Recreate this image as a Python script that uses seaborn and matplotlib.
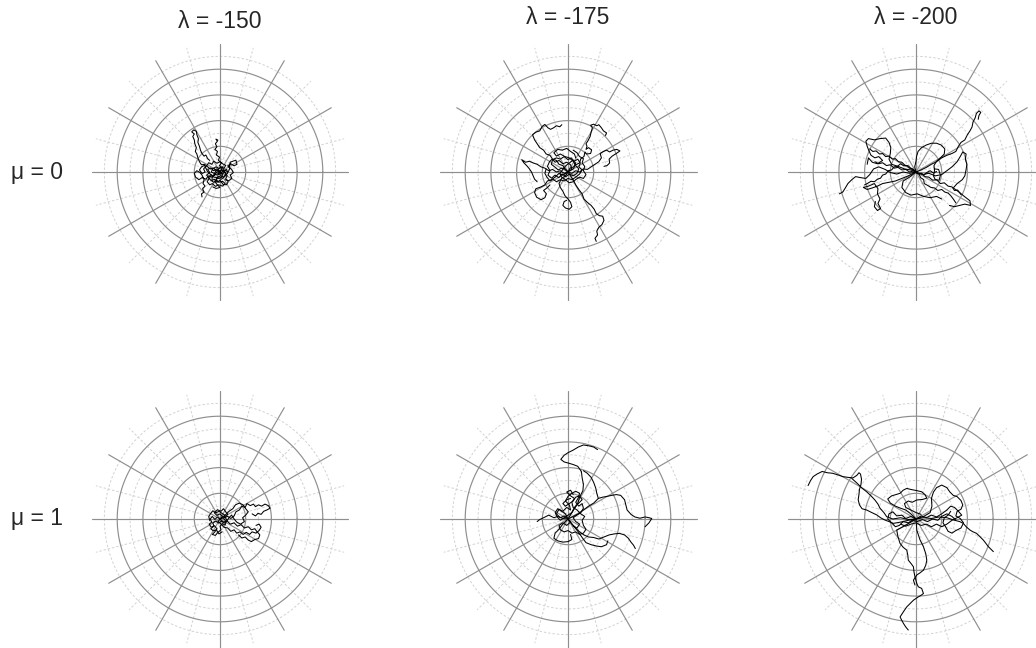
import matplotlib
matplotlib.use("Agg")
import matplotlib.pyplot as plt
import numpy as np
import pandas as pd
import seaborn as sns

# column / row headings
lambda_labels = ["λ = -150", "λ = -175", "λ = -200"]
mu_labels = ["μ = 0", "μ = 1"]

# polar grid (radius units)
solid_rings = [1, 2, 3, 4]
dashed_rings = [0.5, 1.5, 2.5, 3.5, 4.5]
solid_spokes = [0, 30, 60, 90, 120, 150, 180, 210, 240, 270, 300, 330]
dashed_spokes = [15, 45, 75, 105, 135, 165, 195, 225, 255, 285, 315, 345]
spoke_len = 5

# trajectories (x, y in ring units)
walks_150_mu0 = [
    [(0, 0), (-0.15, 0.05), (-0.25, 0.15), (-0.38, 0.12), (-0.5, 0.22), (-0.6, 0.3), (-0.72, 0.28), (-0.8, 0.4),
     (-0.86, 0.55), (-0.9, 0.7), (-0.96, 0.8), (-0.92, 0.95), (-0.98, 1.1), (-1.0, 1.25), (-1.06, 1.38),
     (-1.0, 1.48), (-1.1, 1.56), (-1.02, 1.64), (-0.92, 1.58), (-0.9, 1.45), (-0.84, 1.3), (-0.86, 1.15),
     (-0.8, 1.0), (-0.76, 0.85), (-0.7, 0.72), (-0.62, 0.62), (-0.55, 0.66), (-0.48, 0.52), (-0.4, 0.45)],
    [(0, 0), (-0.1, -0.12), (-0.22, -0.08), (-0.3, -0.2), (-0.45, -0.15), (-0.55, -0.28), (-0.7, -0.22),
     (-0.82, -0.3), (-0.95, -0.2), (-1.0, -0.05), (-0.9, 0.05), (-0.78, -0.02), (-0.7, -0.12), (-0.62, -0.3),
     (-0.66, -0.45), (-0.58, -0.55), (-0.68, -0.65), (-0.62, -0.78), (-0.72, -0.85), (-0.7, -0.97)],
    [(0, 0), (0.08, 0.12), (-0.02, 0.25), (0.06, 0.36), (-0.06, 0.45), (-0.02, 0.58), (-0.14, 0.66), (-0.1, 0.8),
     (-0.2, 0.88), (-0.12, 0.98), (-0.18, 1.1), (-0.1, 1.2), (-0.16, 1.28), (-0.08, 1.24)],
    [(0, 0), (0.12, -0.06), (0.2, 0.06), (0.32, 0.0), (0.38, 0.14), (0.3, 0.24), (0.42, 0.32), (0.55, 0.24),
     (0.66, 0.3), (0.62, 0.46), (0.5, 0.42), (0.4, 0.38), (0.36, 0.2), (0.45, 0.1), (0.52, -0.02), (0.4, -0.12),
     (0.46, -0.25), (0.34, -0.34), (0.2, -0.3)],
    [(0, 0), (0.1, -0.1), (0.05, -0.22), (-0.08, -0.18), (-0.15, -0.3), (-0.05, -0.4), (0.1, -0.36), (0.2, -0.45),
     (0.1, -0.55), (-0.05, -0.5), (-0.18, -0.56), (-0.3, -0.45), (-0.4, -0.5), (-0.5, -0.38), (-0.42, -0.25),
     (-0.52, -0.12), (-0.4, -0.02), (-0.48, 0.1), (-0.36, 0.16), (-0.25, 0.05), (-0.12, 0.12), (-0.05, 0.02),
     (0.08, 0.08), (0.18, -0.02), (0.28, -0.14), (0.22, -0.26), (0.32, -0.38), (0.25, -0.5), (0.12, -0.48),
     (0.0, -0.32), (-0.12, -0.4), (-0.22, -0.28), (-0.32, -0.34), (-0.3, -0.2), (-0.18, -0.1)],
    [(0, 0), (-0.08, 0.1), (0.04, 0.2), (0.16, 0.14), (0.22, 0.26), (0.1, 0.32), (0.0, 0.4), (-0.12, 0.34),
     (-0.24, 0.42), (-0.32, 0.3), (-0.44, 0.36), (-0.52, 0.24), (-0.64, 0.12), (-0.58, 0.0), (-0.7, -0.06),
     (-0.8, 0.08), (-0.72, 0.2), (-0.6, 0.26), (-0.5, 0.04), (-0.38, -0.08), (-0.26, -0.16), (-0.14, -0.02),
     (0.0, -0.08), (0.12, 0.04), (0.26, 0.1), (0.3, -0.04), (0.2, -0.16), (0.06, -0.28), (-0.1, -0.24),
     (-0.2, -0.38), (-0.1, -0.5), (0.0, -0.6), (-0.15, -0.64), (-0.28, -0.58)],
    [(0, 0), (0.06, -0.06), (-0.06, -0.1), (-0.04, 0.06), (-0.16, 0.04), (-0.22, -0.06), (-0.34, 0.0),
     (-0.28, 0.12), (-0.16, 0.2), (-0.04, 0.14), (0.1, 0.2), (0.14, 0.06), (0.24, -0.06), (0.14, -0.2),
     (0.02, -0.14), (-0.1, -0.22), (-0.24, -0.2), (-0.36, -0.1), (-0.44, -0.22), (-0.36, -0.32), (-0.24, -0.4),
     (-0.12, -0.32)],
]

walks_175_mu0 = [
    [(0, 0), (-0.12, 0.1), (-0.2, 0.25), (-0.35, 0.3), (-0.45, 0.45), (-0.6, 0.5), (-0.7, 0.65), (-0.85, 0.7),
     (-0.95, 0.85), (-1.1, 0.95), (-1.2, 1.1), (-1.3, 1.25), (-1.38, 1.45), (-1.25, 1.55), (-1.1, 1.6),
     (-1.0, 1.78), (-0.9, 1.85), (-0.78, 1.72), (-0.68, 1.66), (-0.56, 1.72), (-0.45, 1.8), (-0.32, 1.76),
     (-0.24, 1.84)],
    [(0.05, 0.05), (0.2, 0.12), (0.3, 0.28), (0.45, 0.35), (0.5, 0.52), (0.62, 0.6), (0.66, 0.78), (0.72, 0.7),
     (0.88, 0.72), (0.92, 0.86), (0.8, 0.95), (0.7, 0.88), (0.74, 1.0), (0.7, 1.1), (0.78, 1.22), (0.86, 1.38),
     (0.9, 1.55), (0.95, 1.72), (0.88, 1.82), (1.0, 1.86), (1.12, 1.8), (1.2, 1.84), (1.3, 1.72), (1.38, 1.6),
     (1.5, 1.52), (1.46, 1.42)],
    [(0, 0), (0.15, -0.05), (0.3, 0.05), (0.45, 0.0), (0.6, 0.12), (0.75, 0.1), (0.9, 0.2), (1.05, 0.3),
     (1.2, 0.4), (1.3, 0.55), (1.25, 0.72), (1.38, 0.8), (1.5, 0.85), (1.62, 0.78), (1.75, 0.85), (1.9, 0.88),
     (2.02, 0.82), (1.88, 0.72), (1.72, 0.62), (1.6, 0.5), (1.62, 0.35), (1.52, 0.25), (1.4, 0.22)],
    [(0, 0), (-0.15, -0.05), (-0.3, 0.05), (-0.45, 0.0), (-0.6, 0.1), (-0.75, 0.05), (-0.9, 0.15), (-1.05, 0.2),
     (-1.2, 0.3), (-1.35, 0.35), (-1.5, 0.42), (-1.65, 0.38), (-1.8, 0.48), (-1.72, 0.36), (-1.6, 0.24),
     (-1.5, 0.12), (-1.42, 0.0), (-1.36, -0.14), (-1.3, -0.28), (-1.2, -0.38)],
    [(0, 0), (-0.2, -0.12), (-0.35, -0.05), (-0.5, -0.2), (-0.65, -0.3), (-0.8, -0.35), (-0.9, -0.5),
     (-1.05, -0.58), (-1.25, -0.65), (-1.3, -0.8), (-1.22, -0.98), (-1.05, -1.08), (-0.9, -1.0), (-0.84, -0.85),
     (-0.95, -0.72), (-0.82, -0.62), (-0.7, -0.5)],
    [(0, 0), (-0.1, -0.15), (-0.25, -0.25), (-0.35, -0.45), (-0.3, -0.6), (-0.2, -0.75), (-0.12, -0.92),
     (0.0, -1.05), (0.1, -1.18), (0.15, -1.35), (0.05, -1.45), (-0.1, -1.4), (-0.2, -1.3), (-0.15, -1.15),
     (-0.05, -1.1)],
    [(0, 0), (0.1, -0.15), (0.2, -0.3), (0.3, -0.5), (0.42, -0.68), (0.55, -0.85), (0.62, -1.05), (0.75, -1.18),
     (0.9, -1.3), (1.02, -1.45), (1.1, -1.62), (1.22, -1.7), (1.35, -1.72), (1.4, -1.88), (1.32, -2.05),
     (1.2, -2.15), (1.12, -2.3), (1.15, -2.45), (1.05, -2.58), (1.1, -2.7)],
    [(0, 0), (0.15, 0.1), (0.1, 0.28), (-0.05, 0.38), (-0.2, 0.32), (-0.35, 0.45), (-0.5, 0.38), (-0.62, 0.5),
     (-0.72, 0.4), (-0.8, 0.22), (-0.7, 0.05), (-0.78, -0.12), (-0.64, -0.24), (-0.5, -0.12), (-0.36, -0.22),
     (-0.22, -0.08), (-0.08, -0.18), (0.05, -0.08), (0.2, -0.15), (0.35, -0.05), (0.42, 0.12), (0.3, 0.25),
     (0.2, 0.42), (0.05, 0.55), (-0.12, 0.6), (-0.3, 0.7), (-0.45, 0.62), (-0.55, 0.75), (-0.4, 0.88),
     (-0.22, 0.85), (-0.05, 0.92), (0.1, 0.8), (0.25, 0.7), (0.3, 0.55)],
    [(0, 0), (-0.1, 0.12), (-0.25, 0.15), (-0.38, 0.08), (-0.52, 0.2), (-0.65, 0.3), (-0.6, 0.48), (-0.45, 0.55),
     (-0.3, 0.5), (-0.15, 0.6), (0.0, 0.48), (0.12, 0.55), (0.25, 0.42), (0.38, 0.5), (0.48, 0.35), (0.42, 0.2),
     (0.55, 0.08), (0.45, -0.08), (0.3, -0.2), (0.15, -0.3), (0.0, -0.25), (-0.15, -0.35), (-0.3, -0.3),
     (-0.45, -0.38), (-0.58, -0.28), (-0.7, -0.35), (-0.82, -0.2), (-0.9, -0.05), (-0.85, 0.12)],
    [(0, 0), (0.08, 0.15), (0.22, 0.2), (0.3, 0.35), (0.18, 0.45), (0.05, 0.35), (-0.08, 0.25), (-0.2, 0.1),
     (-0.32, -0.05), (-0.25, -0.2), (-0.1, -0.3), (0.05, -0.42), (0.2, -0.38), (0.32, -0.28), (0.45, -0.2),
     (0.6, -0.25), (0.7, -0.1), (0.6, 0.05), (0.65, 0.22), (0.55, 0.35), (0.6, 0.52), (0.45, 0.6), (0.35, 0.75),
     (0.2, 0.85)],
]

walks_200_mu0 = [
    [(0, 0), (0.2, 0.08), (0.4, 0.18), (0.6, 0.3), (0.8, 0.4), (1.0, 0.55), (1.2, 0.65), (1.4, 0.72), (1.55, 0.8),
     (1.65, 1.0), (1.75, 1.15), (1.9, 1.25), (2.0, 1.45), (2.1, 1.6), (2.18, 1.75), (2.22, 1.95), (2.3, 2.1),
     (2.35, 2.28), (2.45, 2.38), (2.52, 2.32), (2.45, 2.2), (2.42, 2.05)],
    [(0, 0), (0.25, -0.1), (0.5, -0.05), (0.75, -0.15), (1.0, -0.1), (1.2, 0.05), (1.4, 0.2), (1.6, 0.4),
     (1.72, 0.6), (1.82, 0.78), (1.95, 0.7), (1.92, 0.5), (1.98, 0.3), (1.95, 0.1), (1.9, -0.15), (1.8, -0.3),
     (1.6, -0.45), (1.45, -0.62), (1.7, -0.8), (1.88, -0.95), (2.1, -1.12), (2.12, -1.3), (1.9, -1.25),
     (1.7, -1.3), (1.5, -1.35), (1.3, -1.3)],
    [(0, 0), (-0.05, 0.2), (0.0, 0.42), (0.02, 0.6), (0.08, 0.8), (0.22, 0.95), (0.4, 1.05), (0.6, 1.12),
     (0.8, 1.12), (0.98, 1.05), (1.12, 0.9), (1.1, 0.7), (0.95, 0.55), (0.8, 0.42), (0.7, 0.25), (0.72, 0.05),
     (0.68, -0.15), (0.75, -0.3), (0.9, -0.32), (0.95, -0.12), (0.88, 0.1), (0.72, 0.12)],
    [(0, 0), (-0.2, 0.08), (-0.45, 0.12), (-0.7, 0.22), (-0.95, 0.3), (-1.05, 0.5), (-1.0, 0.72), (-0.98, 0.95),
     (-1.05, 1.15), (-1.18, 1.32), (-1.4, 1.3), (-1.62, 1.25), (-1.85, 1.3), (-1.95, 1.2), (-1.9, 1.0),
     (-1.82, 0.8), (-1.75, 0.65), (-1.6, 0.55), (-1.45, 0.6), (-1.3, 0.45), (-1.5, 0.32), (-1.7, 0.38),
     (-1.85, 0.55), (-1.9, 0.3)],
    [(0, 0), (-0.25, -0.05), (-0.5, 0.0), (-0.75, -0.08), (-1.0, -0.02), (-1.2, 0.1), (-1.45, 0.2),
     (-1.65, 0.12), (-1.8, -0.1), (-1.95, -0.25), (-2.15, -0.22), (-2.35, -0.18), (-2.5, -0.3), (-2.65, -0.45),
     (-2.75, -0.62), (-2.85, -0.78), (-2.98, -0.85)],
    [(0, 0), (-0.3, -0.15), (-0.55, -0.25), (-0.8, -0.35), (-1.05, -0.4), (-1.3, -0.45), (-1.5, -0.55),
     (-1.7, -0.62), (-1.9, -0.68), (-2.05, -0.6), (-1.85, -0.55), (-1.62, -0.45), (-1.48, -0.65), (-1.5, -0.85),
     (-1.4, -1.05), (-1.48, -1.22), (-1.38, -1.42), (-1.5, -1.5), (-1.62, -1.35), (-1.58, -1.15)],
    [(-1.6, 0.4), (-1.45, 0.32), (-1.3, 0.36), (-1.15, 0.25), (-1.0, 0.28), (-0.85, 0.15), (-0.7, 0.18),
     (-0.55, 0.08), (-0.4, 0.1), (-0.25, 0.0), (-0.1, 0.04), (0.05, -0.06), (0.2, -0.05), (0.35, -0.18),
     (0.5, -0.2), (0.65, -0.32), (0.8, -0.3), (0.95, -0.45), (1.1, -0.42), (1.25, -0.55), (1.4, -0.58),
     (1.5, -0.72), (1.62, -0.7), (1.75, -0.88)],
    [(0, 0), (0.12, -0.08), (0.18, -0.22), (0.3, -0.3), (0.32, -0.45), (0.45, -0.52), (0.58, -0.6), (0.72, -0.62),
     (0.85, -0.72), (1.0, -0.68), (1.12, -0.78), (1.25, -0.82), (1.35, -0.92), (1.45, -1.05), (1.55, -1.2)],
    [(0, 0), (-0.25, -0.2), (-0.5, -0.35), (-0.55, -0.6), (-0.4, -0.8), (-0.2, -0.9), (0.05, -0.85), (0.3, -0.95),
     (0.55, -1.0), (0.8, -0.95), (1.0, -1.05)],
    [(-1.8, 0.9), (-1.68, 0.8), (-1.55, 0.82), (-1.42, 0.7), (-1.3, 0.72), (-1.18, 0.6), (-1.05, 0.62),
     (-0.92, 0.5), (-0.8, 0.52), (-0.68, 0.4), (-0.55, 0.38), (-0.42, 0.25), (-0.3, 0.24), (-0.18, 0.12),
     (-0.1, 0.08), (0.02, -0.02), (0.1, -0.08), (0.22, -0.05), (0.3, -0.12), (0.42, -0.02), (0.55, 0.05),
     (0.68, -0.04), (0.8, 0.02)],
    [(0, 0), (-0.12, 0.12), (-0.25, 0.15), (-0.35, 0.25), (-0.48, 0.24), (-0.6, 0.32), (-0.72, 0.22),
     (-0.85, 0.2), (-0.95, 0.08), (-1.08, 0.05), (-1.18, -0.08), (-1.3, -0.12), (-1.38, -0.24), (-1.5, -0.28),
     (-1.62, -0.38), (-1.75, -0.36), (-1.88, -0.44), (-2.0, -0.5)],
]

walks_150_mu1 = [
    [(0, 0), (-0.1, 0.08), (-0.2, -0.02), (-0.3, 0.1), (-0.38, 0.0), (-0.32, -0.12), (-0.42, -0.2), (-0.34, -0.32),
     (-0.22, -0.26), (-0.12, -0.38), (-0.2, -0.5), (-0.3, -0.6), (-0.18, -0.64), (-0.08, -0.52), (0.04, -0.42),
     (0.0, -0.28), (0.1, -0.18), (0.2, -0.24), (0.24, -0.1), (0.14, 0.02), (0.2, 0.14), (0.08, 0.22),
     (-0.04, 0.3), (-0.16, 0.24), (-0.28, 0.32), (-0.36, 0.22), (-0.44, 0.1), (-0.4, -0.06)],
    [(0, 0), (0.1, 0.1), (0.0, 0.2), (-0.12, 0.14), (-0.22, 0.24), (-0.1, 0.36), (0.04, 0.3), (0.14, 0.4),
     (0.22, 0.28), (0.3, 0.18), (0.2, 0.06), (0.28, -0.06), (0.18, -0.16), (0.06, -0.08), (-0.06, -0.16),
     (-0.16, -0.08), (-0.28, -0.14), (-0.24, -0.28), (-0.36, -0.38), (-0.26, -0.46), (-0.14, -0.42),
     (-0.04, -0.58), (0.08, -0.5)],
    [(0, 0), (0.15, 0.05), (0.3, 0.1), (0.42, 0.02), (0.55, 0.12), (0.62, 0.28), (0.75, 0.35), (0.85, 0.5),
     (0.98, 0.45), (1.05, 0.6), (1.18, 0.52), (1.3, 0.58), (1.38, 0.48), (1.5, 0.55), (1.62, 0.5), (1.75, 0.58),
     (1.88, 0.52), (1.95, 0.42), (1.82, 0.35), (1.7, 0.3), (1.6, 0.18), (1.48, 0.22), (1.38, 0.12), (1.25, 0.2)],
    [(0, 0), (0.12, -0.12), (0.28, -0.08), (0.4, -0.2), (0.55, -0.15), (0.68, -0.28), (0.82, -0.22),
     (0.95, -0.35), (1.1, -0.3), (1.22, -0.42), (1.35, -0.38), (1.45, -0.5), (1.55, -0.62), (1.5, -0.76),
     (1.35, -0.8), (1.22, -0.88), (1.1, -0.82), (0.98, -0.7), (0.85, -0.74), (0.72, -0.62)],
    [(0, 0), (0.2, 0.15), (0.35, 0.3), (0.5, 0.4), (0.6, 0.55), (0.75, 0.62), (0.9, 0.55), (1.0, 0.4),
     (1.1, 0.28), (1.0, 0.15), (0.88, 0.05), (0.95, -0.1), (0.8, -0.2), (0.65, -0.12), (0.55, 0.0), (0.45, 0.15),
     (0.35, 0.05), (0.25, -0.1)],
    [(0, 0), (-0.08, -0.1), (0.05, -0.2), (0.15, -0.32), (0.3, -0.35), (0.42, -0.48), (0.55, -0.42),
     (0.65, -0.55), (0.78, -0.5), (0.9, -0.6), (1.02, -0.52), (1.15, -0.6), (1.25, -0.5), (1.4, -0.55),
     (1.52, -0.45), (1.6, -0.32), (1.52, -0.2), (1.4, -0.25)],
]

walks_175_mu1 = [
    [(0, 0), (0.12, 0.2), (0.25, 0.4), (0.38, 0.6), (0.45, 0.85), (0.58, 1.1), (0.6, 1.35), (0.55, 1.6),
     (0.52, 1.85), (0.38, 2.05), (0.2, 2.12), (0.0, 2.18), (-0.15, 2.22), (-0.28, 2.32), (-0.15, 2.48),
     (0.0, 2.58), (0.2, 2.68), (0.4, 2.8), (0.6, 2.88), (0.8, 2.85), (1.0, 2.8), (1.15, 2.7)],
    [(0, 0), (0.2, 0.1), (0.4, 0.2), (0.6, 0.35), (0.8, 0.5), (1.0, 0.62), (1.18, 0.8), (1.35, 0.85),
     (1.52, 0.88), (1.7, 0.92), (1.88, 0.95), (2.05, 0.92), (2.2, 0.75), (2.25, 0.55), (2.3, 0.35), (2.45, 0.18),
     (2.6, 0.08), (2.8, 0.03), (3.0, 0.08), (3.15, 0.05), (3.26, 0.02), (3.15, -0.15), (3.0, -0.3)],
    [(1.18, 0.8), (1.12, 1.0), (1.08, 1.2), (1.0, 1.42), (0.9, 1.62), (0.75, 1.78), (0.6, 1.88)],
    [(0, 0), (0.15, -0.2), (0.3, -0.35), (0.45, -0.5), (0.62, -0.62), (0.8, -0.7), (1.0, -0.72), (1.2, -0.78),
     (1.4, -0.7), (1.6, -0.62), (1.8, -0.58), (2.0, -0.56), (2.2, -0.62), (2.35, -0.75), (2.45, -0.9),
     (2.55, -1.02), (2.62, -1.15)],
    [(0, 0), (0.2, -0.25), (0.4, -0.5), (0.55, -0.72), (0.7, -0.92), (0.9, -1.0), (1.1, -1.05), (1.3, -1.08),
     (1.5, -1.0), (1.55, -0.85)],
    [(0, 0), (-0.2, 0.02), (-0.4, 0.1), (-0.55, 0.05), (-0.75, 0.15), (-0.95, 0.05), (-1.1, -0.02), (-1.2, -0.1)],
    [(0, 0), (-0.2, -0.2), (-0.35, -0.4), (-0.5, -0.55), (-0.55, -0.75), (-0.4, -0.85), (-0.2, -0.9),
     (0.0, -0.88), (0.15, -0.8), (0.1, -0.6)],
    [(0, 0), (-0.15, 0.12), (-0.3, 0.05), (-0.45, 0.2), (-0.35, 0.38), (-0.2, 0.3), (-0.05, 0.45), (0.1, 0.35),
     (0.05, 0.55), (-0.1, 0.7), (0.0, 0.88), (0.15, 1.0), (0.3, 1.08), (0.45, 1.0), (0.4, 0.82), (0.3, 0.65),
     (0.42, 0.5), (0.55, 0.6), (0.6, 0.42), (0.5, 0.25), (0.35, 0.15), (0.2, 0.05), (0.3, -0.1), (0.45, -0.2),
     (0.35, -0.35), (0.2, -0.28)],
    [(0, 0), (0.1, -0.12), (-0.05, -0.25), (-0.2, -0.15), (-0.35, -0.25), (-0.3, -0.42), (-0.15, -0.5),
     (0.0, -0.45), (0.15, -0.55), (0.3, -0.5), (0.45, -0.6), (0.6, -0.55), (0.7, -0.4), (0.6, -0.25),
     (0.55, -0.05), (0.65, 0.1), (0.5, 0.2), (0.35, 0.35), (0.2, 0.45), (0.15, 0.65), (0.25, 0.8), (0.1, 0.9),
     (-0.05, 1.05), (0.1, 1.12), (0.2, 0.95)],
    [(0, 0), (-0.1, 0.2), (-0.25, 0.3), (-0.4, 0.4), (-0.5, 0.25), (-0.42, 0.08), (-0.3, -0.05), (-0.15, 0.05),
     (0.0, 0.15), (0.15, 0.25), (0.25, 0.45), (0.4, 0.6), (0.55, 0.75), (0.45, 0.9), (0.3, 0.85), (0.2, 0.7),
     (0.05, 0.6), (-0.1, 0.5), (-0.2, 0.6), (-0.05, 0.75), (0.1, 0.8)],
]

walks_200_mu1 = [
    [(0, 0), (-0.3, -0.05), (-0.6, -0.12), (-0.88, -0.17), (-1.05, -0.1), (-1.21, -0.04), (-1.38, 0.05),
     (-1.53, 0.16), (-1.72, 0.25), (-1.92, 0.35), (-2.1, 0.4), (-2.2, 0.55), (-2.25, 0.75), (-2.22, 0.95),
     (-2.2, 1.15), (-2.14, 1.35), (-2.12, 1.55), (-2.16, 1.75), (-2.22, 1.8), (-2.3, 1.7), (-2.45, 1.6),
     (-2.65, 1.62), (-2.85, 1.65), (-3.05, 1.72), (-3.25, 1.78), (-3.45, 1.8), (-3.65, 1.85), (-3.85, 1.75),
     (-4.0, 1.65), (-4.1, 1.5), (-4.2, 1.3)],
    [(-2.5, 1.58), (-2.3, 1.4), (-2.1, 1.2), (-1.92, 1.06), (-1.75, 0.9), (-1.6, 0.74), (-1.48, 0.58),
     (-1.4, 0.42), (-1.25, 0.25), (-1.14, 0.09), (-0.9, 0.0), (-0.6, 0.05), (-0.3, -0.02), (0, 0)],
    [(0, 0), (-0.25, -0.15), (-0.5, -0.3), (-0.75, -0.43), (-0.7, -0.7), (-0.62, -0.95), (-0.5, -1.1),
     (-0.36, -1.21), (-0.32, -1.4), (-0.3, -1.6), (-0.18, -1.75), (-0.1, -1.86), (-0.08, -2.05), (-0.04, -2.25),
     (0.0, -2.4), (0.03, -2.51), (0.09, -2.64), (0.22, -2.7), (0.29, -2.9), (0.18, -2.98), (0.09, -3.03),
     (-0.1, -3.16), (-0.23, -3.29), (-0.36, -3.42), (-0.49, -3.61), (-0.62, -3.81), (-0.55, -3.95),
     (-0.49, -4.06), (-0.4, -4.2), (-0.3, -4.32)],
    [(0, 0), (0.03, -0.43), (0.16, -0.82), (0.29, -1.08), (0.38, -1.35), (0.42, -1.6), (0.38, -1.8),
     (0.29, -1.99), (0.15, -2.1), (0.03, -2.18), (-0.1, -2.38), (-0.04, -2.57)],
    [(0, 0), (0.3, 0.05), (0.6, 0.02), (0.9, 0.08), (1.2, 0.05), (1.5, -0.05), (1.7, -0.1), (1.84, -0.17),
     (1.95, -0.3), (2.1, -0.43), (2.22, -0.5), (2.36, -0.56), (2.5, -0.7), (2.62, -0.82), (2.72, -0.95),
     (2.82, -1.08), (2.92, -1.18), (3.01, -1.27)],
    [(0, 0), (0.3, 0.1), (0.55, 0.25), (0.62, 0.5), (0.6, 0.8), (0.68, 1.05), (0.8, 1.22), (1.0, 1.32),
     (1.2, 1.22), (1.32, 1.05), (1.45, 0.92), (1.6, 0.87), (1.75, 0.72), (1.82, 0.55), (1.75, 0.38), (1.6, 0.3),
     (1.55, 0.12), (1.72, 0.02), (1.85, -0.15), (1.75, -0.35), (1.55, -0.45), (1.4, -0.55), (1.25, -0.48),
     (1.15, -0.3), (1.05, -0.15), (1.1, 0.05), (1.25, 0.15), (1.35, 0.3)],
    [(0, 0), (-0.2, 0.2), (-0.4, 0.35), (-0.6, 0.42), (-0.8, 0.5), (-1.0, 0.62), (-1.1, 0.78), (-0.95, 0.9),
     (-0.78, 0.95), (-0.62, 1.0), (-0.5, 1.12), (-0.36, 1.19), (-0.2, 1.15), (-0.1, 1.13), (0.05, 1.1),
     (0.22, 1.06), (0.35, 0.95), (0.42, 0.81), (0.25, 0.76), (0.03, 0.74), (-0.15, 0.65), (-0.3, 0.7),
     (-0.45, 0.6), (-0.4, 0.45), (-0.2, 0.35), (0, 0.25), (0.2, 0.18)],
    [(0, 0), (-0.2, 0.1), (-0.4, 0.02), (-0.55, 0.15), (-0.75, 0.12), (-0.9, 0.28), (-1.05, 0.2), (-1.1, 0.0),
     (-0.95, -0.15), (-0.8, -0.3), (-0.65, -0.25), (-0.5, -0.1), (-0.3, -0.15), (-0.15, -0.05), (0.05, -0.1),
     (0.25, -0.02), (0.45, -0.1), (0.65, 0.0), (0.85, -0.05), (1.0, 0.1), (1.2, 0.2), (1.4, 0.1), (1.55, -0.05)],
    [(0, 0), (0.2, 0.12), (0.4, 0.05), (0.6, 0.15), (0.8, 0.08), (1.0, 0.2), (1.2, 0.35), (1.35, 0.5),
     (1.5, 0.45), (1.65, 0.3), (1.78, 0.15), (1.6, 0.05), (1.4, -0.05), (1.2, -0.2), (1.0, -0.3), (0.8, -0.2),
     (0.6, -0.3), (0.4, -0.2), (0.2, -0.25), (0.0, -0.15), (-0.2, -0.2), (-0.4, -0.28), (-0.6, -0.2)],
]

panels = [
    [walks_150_mu0, walks_175_mu0, walks_200_mu0],
    [walks_150_mu1, walks_175_mu1, walks_200_mu1],
]

rows = []
for r, row in enumerate(panels):
    for c, walks in enumerate(row):
        for w, walk in enumerate(walks):
            for i, (x, y) in enumerate(walk):
                rows.append({"row": r, "col": c, "walk": w, "step": i, "x": x, "y": y})
df = pd.DataFrame(rows)

sns.set_style("white")
plt.rcParams["font.family"] = ["Liberation Sans", "DejaVu Sans"]

W, H = 1036, 648
fig = plt.figure(figsize=(W / 100, H / 100), dpi=100)
fig.patch.set_facecolor("white")

centers_x = [220, 568, 916]
centers_y = [172, 519]
unit_px = 25.7
lim = 5.25
half = lim * unit_px

theta = np.linspace(0, 2 * np.pi, 400)
for r in range(2):
    for c in range(3):
        cx, cy = centers_x[c], centers_y[r]
        ax = fig.add_axes([(cx - half) / W, (H - cy - half) / H, 2 * half / W, 2 * half / H])
        for rad in dashed_rings:
            ax.plot(rad * np.cos(theta), rad * np.sin(theta), color="#d2d2d2", lw=0.7, ls=(0, (2.5, 2)), zorder=1)
        for ang in dashed_spokes:
            a = np.deg2rad(ang)
            ax.plot([0, spoke_len * np.cos(a)], [0, spoke_len * np.sin(a)], color="#d2d2d2", lw=0.7,
                    ls=(0, (2.5, 2)), zorder=1)
        for rad in solid_rings:
            ax.plot(rad * np.cos(theta), rad * np.sin(theta), color="#8f8f8f", lw=0.85, zorder=2)
        for ang in solid_spokes:
            a = np.deg2rad(ang)
            ax.plot([0, spoke_len * np.cos(a)], [0, spoke_len * np.sin(a)], color="#8f8f8f", lw=0.85, zorder=2)
        sub = df[(df["row"] == r) & (df["col"] == c)]
        sns.lineplot(data=sub, x="x", y="y", units="walk", estimator=None, sort=False,
                     color="black", lw=0.75, ax=ax, legend=False, zorder=3)
        ax.set_xlim(-lim, lim)
        ax.set_ylim(-lim, lim)
        ax.set_aspect("equal")
        ax.axis("off")

title_y = [22, 17, 17]
for c, lab in enumerate(lambda_labels):
    fig.text(centers_x[c] / W, 1 - title_y[c] / H, lab, ha="center", va="center", fontsize=16.5)
for r, lab in enumerate(mu_labels):
    fig.text(37 / W, 1 - centers_y[r] / H, lab, ha="center", va="center", fontsize=16.5)

fig.savefig("out.png", dpi=100, facecolor="white")
